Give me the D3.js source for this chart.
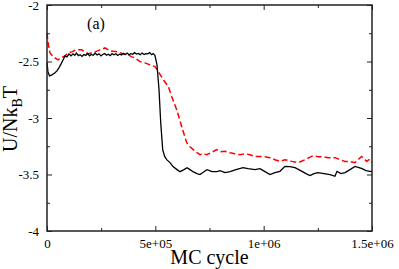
<!DOCTYPE html>
<html>
<head>
<meta charset="utf-8">
<script src="https://cdn.jsdelivr.net/npm/d3@7"></script>
<style>
  body { margin: 0; background: #fff; }
</style>
</head>
<body>
<div id="container"></div>
<script>
// x ticks and y ticks
let xTicks = [0, 500000, 1000000, 1500000];
let xTickLabels = ["0", "5e+05", "1e+06", "1.5e+06"];
let yTicks = [-4, -3.5, -3, -2.5, -2];
let yTickLabels = ["-4", "-3.5", "-3", "-2.5", "-2"];

// black solid series: [MC cycle, U/NkBT]
let blackSeries = [
  [0, -2.512], [4600, -2.592], [11500, -2.627], [23000, -2.618], [37000, -2.600],
  [46000, -2.583], [55000, -2.556], [65000, -2.521], [74000, -2.486], [83000, -2.450],
  [92000, -2.459], [101500, -2.433], [111000, -2.450], [120000, -2.432], [128000, -2.445],
  [136000, -2.425], [145000, -2.448], [153000, -2.440], [162000, -2.455], [170000, -2.438],
  [179000, -2.446], [188000, -2.428], [196000, -2.450], [205000, -2.437], [214000, -2.445],
  [222000, -2.425], [231000, -2.442], [240000, -2.432], [249000, -2.450], [257000, -2.438],
  [266000, -2.430], [275000, -2.445], [283000, -2.436], [292000, -2.448], [300000, -2.430],
  [309000, -2.440], [318000, -2.432], [326000, -2.447], [335000, -2.435], [344000, -2.442],
  [352000, -2.428], [361000, -2.438], [370000, -2.426], [378000, -2.440], [387000, -2.430],
  [396000, -2.436], [404000, -2.422], [413000, -2.434], [422000, -2.428], [430000, -2.440],
  [439000, -2.425], [448000, -2.438], [456000, -2.430], [465000, -2.432], [474000, -2.422],
  [482000, -2.440], [490000, -2.430], [498000, -2.445], [507700, -2.530], [517000, -2.750],
  [524800, -3.040], [534000, -3.280], [543000, -3.340], [552500, -3.369], [567700, -3.395],
  [581500, -3.430], [600000, -3.457], [613800, -3.475], [632300, -3.457], [646000, -3.440],
  [660000, -3.457], [673800, -3.475], [692300, -3.492], [706000, -3.501], [724600, -3.475],
  [738500, -3.457], [761500, -3.475], [784600, -3.475], [798500, -3.466], [821500, -3.483],
  [844600, -3.475], [872300, -3.457], [904600, -3.439], [927700, -3.448], [960000, -3.457],
  [983000, -3.448], [1006000, -3.475], [1029000, -3.501], [1052000, -3.483], [1075000, -3.472],
  [1098500, -3.428], [1121500, -3.430], [1144600, -3.439], [1177000, -3.472], [1195000, -3.492],
  [1213800, -3.510], [1232300, -3.492], [1250800, -3.483], [1278500, -3.492], [1306000, -3.501],
  [1329000, -3.516], [1338500, -3.472], [1357000, -3.492], [1375400, -3.483], [1398500, -3.457],
  [1421500, -3.428], [1440000, -3.439], [1454000, -3.448], [1472300, -3.466], [1490800, -3.472],
  [1500000, -3.475]
];

// red dashed series
let redSeries = [
  [0, -2.247], [4600, -2.327], [9200, -2.380], [13800, -2.424], [25400, -2.450],
  [37000, -2.468], [50800, -2.486], [64600, -2.468], [83000, -2.450], [97000, -2.424],
  [114000, -2.415], [134000, -2.397], [160000, -2.397], [189000, -2.433], [221500, -2.415],
  [244600, -2.397], [267700, -2.380], [290800, -2.406], [327700, -2.415], [350800, -2.433],
  [373800, -2.442], [392300, -2.459], [406000, -2.468], [429000, -2.501], [452300, -2.512],
  [475400, -2.530], [498500, -2.545], [513700, -2.589], [536800, -2.662], [559800, -2.721],
  [575400, -2.810], [598600, -2.927], [621700, -3.075], [644800, -3.219], [660000, -3.254],
  [675200, -3.280], [692300, -3.307], [706000, -3.325], [720000, -3.316], [737000, -3.325],
  [757000, -3.307], [783200, -3.280], [798500, -3.298], [821500, -3.295], [844600, -3.307],
  [867700, -3.316], [890800, -3.325], [913800, -3.316], [937000, -3.325], [960000, -3.342],
  [983000, -3.340], [1006000, -3.342], [1029000, -3.351], [1052000, -3.369], [1075400, -3.384],
  [1098500, -3.369], [1129300, -3.384], [1159800, -3.395], [1190800, -3.369], [1209000, -3.351],
  [1229000, -3.333], [1250800, -3.342], [1267700, -3.342], [1297000, -3.351], [1329200, -3.351],
  [1352300, -3.369], [1375400, -3.384], [1398500, -3.386], [1421500, -3.395], [1435400, -3.369],
  [1452300, -3.340], [1463000, -3.360], [1475600, -3.384], [1486000, -3.369], [1500000, -3.395]
];

let W = 399, H = 269;
let margin = {left: 47, right: 27, top: 5, bottom: 38};
let serif = "'Liberation Serif'";

let svg = d3.select("#container")
  .append("svg")
    .attr("width", W)
    .attr("height", H);

let x = d3.scaleLinear().domain([0, 1500000]).range([margin.left, W - margin.right]);
let y = d3.scaleLinear().domain([-4, -2]).range([H - margin.bottom, margin.top]);

let xMinor = [250000, 750000, 1250000];
let yMinor = [-3.75, -3.25, -2.75, -2.25];

// bottom axis with labels
svg.append("g")
    .attr("transform", "translate(0," + y(-4) + ")")
    .call(d3.axisBottom(x).tickValues(xTicks).tickSize(-5).tickPadding(8)
      .tickFormat((d, i) => xTickLabels[i]))
    .call(g => g.select(".domain").remove());
svg.append("g")
    .attr("transform", "translate(0," + y(-4) + ")")
    .call(d3.axisBottom(x).tickValues(xMinor).tickSize(-3).tickFormat(""))
    .call(g => g.select(".domain").remove());

// top axis
svg.append("g")
    .attr("transform", "translate(0," + y(-2) + ")")
    .call(d3.axisTop(x).tickValues(xTicks).tickSize(-5).tickFormat(""))
    .call(g => g.select(".domain").remove());
svg.append("g")
    .attr("transform", "translate(0," + y(-2) + ")")
    .call(d3.axisTop(x).tickValues(xMinor).tickSize(-3).tickFormat(""))
    .call(g => g.select(".domain").remove());

// left axis with labels
svg.append("g")
    .attr("transform", "translate(" + x(0) + ",0)")
    .call(d3.axisLeft(y).tickValues(yTicks).tickSize(-5).tickPadding(8)
      .tickFormat((d, i) => yTickLabels[i]))
    .call(g => g.select(".domain").remove());
svg.append("g")
    .attr("transform", "translate(" + x(0) + ",0)")
    .call(d3.axisLeft(y).tickValues(yMinor).tickSize(-3).tickFormat(""))
    .call(g => g.select(".domain").remove());

// right axis
svg.append("g")
    .attr("transform", "translate(" + x(1500000) + ",0)")
    .call(d3.axisRight(y).tickValues(yTicks).tickSize(-5).tickFormat(""))
    .call(g => g.select(".domain").remove());
svg.append("g")
    .attr("transform", "translate(" + x(1500000) + ",0)")
    .call(d3.axisRight(y).tickValues(yMinor).tickSize(-3).tickFormat(""))
    .call(g => g.select(".domain").remove());

svg.selectAll(".tick line").attr("stroke", "#222").attr("stroke-width", 1);
svg.selectAll(".tick text")
    .style("font-family", serif)
    .style("font-size", "13px")
    .attr("fill", "#000");

let line = d3.line()
  .x(d => x(d[0]))
  .y(d => y(d[1]));

svg.append("path")
    .datum(redSeries)
    .attr("fill", "none")
    .attr("stroke", "#ff0000")
    .attr("stroke-width", 1.5)
    .attr("stroke-dasharray", "6,3")
    .attr("d", line);

svg.append("path")
    .datum(blackSeries)
    .attr("fill", "none")
    .attr("stroke", "#000")
    .attr("stroke-width", 1.3)
    .attr("d", line);

// frame
svg.append("rect")
    .attr("x", x(0))
    .attr("y", y(-2))
    .attr("width", x(1500000) - x(0))
    .attr("height", y(-4) - y(-2))
    .attr("fill", "none")
    .attr("stroke", "#222")
    .attr("stroke-width", 1.5);

svg.append("text")
    .attr("x", 96)
    .attr("y", 29)
    .attr("text-anchor", "middle")
    .style("font-family", serif)
    .style("font-size", "16px")
    .text("(a)");

svg.append("text")
    .attr("x", (x(0) + x(1500000)) / 2)
    .attr("y", 264)
    .attr("text-anchor", "middle")
    .style("font-family", serif)
    .style("font-size", "20px")
    .text("MC cycle");

let ylab = svg.append("text")
    .attr("transform", "translate(17,119) rotate(-90)")
    .attr("text-anchor", "middle")
    .style("font-family", serif)
    .style("font-size", "20px");
ylab.append("tspan").text("U/Nk");
ylab.append("tspan").style("font-size", "14px").attr("dy", 5).text("B");
ylab.append("tspan").attr("dy", -5).text("T");
</script>
</body>
</html>
